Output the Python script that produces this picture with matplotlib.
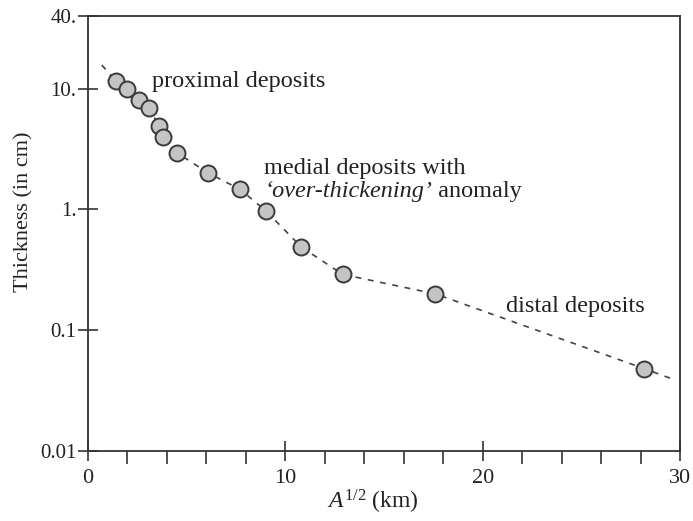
import numpy as np
import matplotlib.pyplot as plt
from matplotlib.ticker import FixedLocator, NullLocator

plt.rcParams['font.family'] = ['Liberation Serif', 'DejaVu Serif']
plt.rcParams['mathtext.fontset'] = 'custom'
plt.rcParams['mathtext.rm'] = 'Liberation Serif'
plt.rcParams['mathtext.it'] = 'Liberation Serif:italic'

# --- data ---
sqrt_area = [1.4, 2.0, 2.6, 3.1, 3.6, 3.8, 4.5, 6.1, 7.7, 9.0, 10.8, 12.9, 17.6, 28.2]
thickness = [11.6, 9.9, 8.1, 6.9, 4.9, 4.0, 2.95, 2.0, 1.47, 0.98, 0.49, 0.29, 0.20, 0.048]

# dashed trend through the deposits
trend_x = [0.7, 1.4, 2.0, 2.6, 3.1, 3.6, 3.8, 4.5, 6.1, 7.7, 9.0, 10.8, 12.9, 17.6, 28.2, 29.7]
trend_y = [15.7, 11.6, 9.9, 8.1, 6.9, 4.9, 4.0, 2.95, 2.0, 1.47, 0.98, 0.49, 0.29, 0.20, 0.048, 0.039]

yticks = [0.01, 0.1, 1, 10, 40]
ytick_labels = ["0.01", "0.1", "1.", "10.", "40."]
xticks = [0, 10, 20, 30]
xminor = [2, 4, 6, 8, 12, 14, 16, 18, 22, 24, 26, 28]

fig = plt.figure(figsize=(6.93, 5.21), dpi=100)
ax = fig.add_axes([88 / 693, 1 - 451 / 521, (680 - 88) / 693, (451 - 16) / 521])

ax.plot(trend_x, trend_y, color='#444444', lw=1.2, ls=(0, (3.5, 4)), zorder=1)
ax.plot(sqrt_area, thickness, 'o', ms=11.5, mfc='#c4c4c4', mec='#3a3a3a', mew=1.4, zorder=2)

ax.set_yscale('log')
ax.set_xlim(0, 30)
ax.set_ylim(0.01, 40)

ax.yaxis.set_major_locator(FixedLocator(yticks))
ax.yaxis.set_minor_locator(NullLocator())
ax.set_yticklabels(ytick_labels)
ax.set_xticks(xticks)
ax.xaxis.set_minor_locator(FixedLocator(xminor))

ax.tick_params(axis='y', which='major', direction='inout', length=14.5, width=1.2,
               labelsize=15, pad=1, color='#333333', labelcolor='#222222')
ax.tick_params(axis='x', which='major', direction='inout', length=14, width=1.2,
               labelsize=16, pad=6, color='#333333', labelcolor='#222222')
ax.tick_params(axis='x', which='minor', direction='out', length=9.5, width=1.2, color='#333333')

for s in ax.spines.values():
    s.set_linewidth(1.3)
    s.set_color('#333333')

ax.set_ylabel("Thickness (in cm)", fontsize=16, labelpad=5, color='#222222', y=0.549)
ax.set_xlabel(r"$\mathit{A}^{\mathit{1/2}}$ (km)", fontsize=17, labelpad=0, color='#222222', x=0.481)

tk = dict(fontsize=17.5, color='#222222', ha='left')
ax.text(3.24, 10.3, "proximal deposits", va='baseline', **tk)
ax.text(8.92, 1.97, "medial deposits with", va='baseline', **tk)
t1 = ax.text(8.92, 1.27, "‘over-thickening’", style='italic', va='baseline', **tk)
ax.annotate(" anomaly", xy=(1, 0), xycoords=t1, va='bottom', **tk)
ax.text(21.19, 0.142, "distal deposits", va='baseline', **tk)

fig.savefig("out.png", dpi=100)
